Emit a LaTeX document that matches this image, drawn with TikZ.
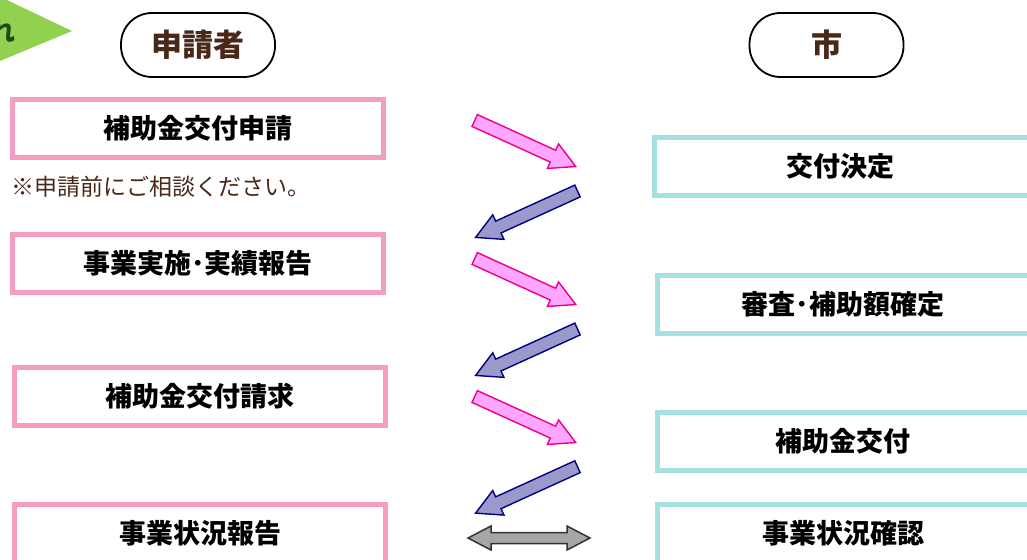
\documentclass[tikz,border=0pt]{standalone}
\usepackage{fontspec}
\setmainfont{Noto Sans CJK JP}
\usepackage{xcolor}
\usetikzlibrary{positioning}

\definecolor{applpink}{HTML}{F59CC1}
\definecolor{citycyan}{HTML}{A5E1E1}
\definecolor{headbrown}{HTML}{4A2818}
\definecolor{leafgreen}{HTML}{92D050}
\definecolor{leafdark}{HTML}{1E4A1E}
\definecolor{arrowpink}{HTML}{FFA6FF}
\definecolor{arrowblue}{HTML}{9999CC}
\definecolor{arrownavy}{HTML}{000080}
\definecolor{swapgray}{HTML}{A6A6A6}

\tikzset{
  applbox/.style={draw=applpink, line width=5pt, minimum width=371pt, minimum height=58pt,
    inner sep=0pt, font=\bfseries\fontsize{27}{30}\selectfont},
  citybox/.style={applbox, draw=citycyan, minimum width=400pt},
  party/.style={draw, line width=1.8pt, rounded corners=31pt, minimum width=154pt,
    minimum height=64pt, text=headbrown, font=\bfseries\fontsize{31}{34}\selectfont},
  tocity/.style={draw=magenta, fill=arrowpink, line width=1.4pt, line join=miter},
  toappl/.style={draw=arrownavy, fill=arrowblue, line width=1.4pt, line join=miter},
  both/.style={draw=black!80, fill=swapgray, line width=1.5pt, line join=miter},
}

% block arrow: style, tail, angle, length
\newcommand{\blockarrow}[4]{%
  \draw[#1, shift={#2}, rotate=#3]
    (0,-6.5) -- ({#4-25},-6.5) -- ({#4-25},-13.5) -- (#4,0)
    -- ({#4-25},13.5) -- ({#4-25},6.5) -- (0,6.5) -- cycle;}

\begin{document}
\begin{tikzpicture}[x=1pt, y=-1pt]
    \useasboundingbox (0,0) rectangle (1027,559);

    % Title tab (cut off at the left)
    \fill[leafgreen] (0,-3.3) -- (72,31) -- (0,61) -- cycle;
    \node[text=leafdark, font=\bfseries\fontsize{26}{28}\selectfont] (tab) at (3,32) {れ};

    % Parties
    \node[party] (appl) at (198,45) {申請者};
    \node[party] (city) at (826.5,45) {市};

    % Applicant steps
    \node[applbox] (apply)  at (198,128.5) {補助金交付申請};
    \node[anchor=west, text=headbrown, font=\fontsize{23}{26}\selectfont] (note) at (8,187) {※申請前にご相談ください。};
    \node[applbox] (report) at (198,263.5) {事業実施･実績報告};
    \node[applbox] (claim)  at (200,396.5) {補助金交付請求};
    \node[applbox] (state)  at (200,533.5) {事業状況報告};

    % City steps (cut off at the right)
    \node[citybox] (decide)  at (854.5,166.5) {\hspace*{-29pt}交付決定};
    \node[citybox] (examine) at (857.5,304.5) {\hspace*{-29pt}審査･補助額確定};
    \node[citybox] (grant)   at (857.5,441.5) {\hspace*{-29pt}補助金交付};
    \node[citybox] (check)   at (857.5,533.5) {\hspace*{-29pt}事業状況確認};

    % Flow between the two sides
    \coordinate (p1) at (474.7,120.5);
    \coordinate (b1) at (577.5,191);
    \coordinate (p2) at (474.7,258.5);
    \coordinate (b2) at (577.5,329);
    \coordinate (p3) at (474.7,396.5);
    \coordinate (b3) at (577.5,466.7);
    \blockarrow{tocity}{(p1)}{-24.5}{111}
    \blockarrow{toappl}{(b1)}{204.5}{112}
    \blockarrow{tocity}{(p2)}{-24.5}{111}
    \blockarrow{toappl}{(b2)}{204.5}{112}
    \blockarrow{tocity}{(p3)}{-24.5}{111}
    \blockarrow{toappl}{(b3)}{204.5}{112}

    % Two-way exchange
    \draw[both] (468,538) -- (491,526) -- (491,532.5) -- (567,532.5) -- (567,526) -- (590,538)
      -- (567,550) -- (567,543.5) -- (491,543.5) -- (491,550) -- cycle;
\end{tikzpicture}
\end{document}
